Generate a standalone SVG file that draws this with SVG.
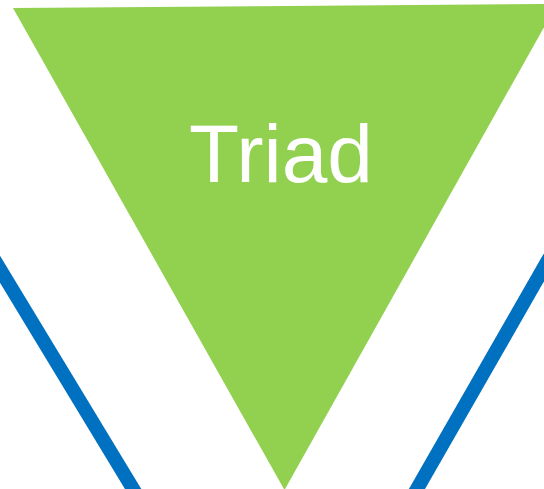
<svg xmlns="http://www.w3.org/2000/svg" width="544" height="489" viewBox="0 0 544 489">
  <style>
    .side { stroke: #0070C0; stroke-width: 14; fill: none; }
    .tri { fill: #92D050; }
    .label { font-family: "Liberation Sans", Arial, sans-serif; font-size: 82px; fill: #FFFFFF; text-anchor: middle; }
  </style>
  <rect width="544" height="489" fill="#FFFFFF"/>
  <g id="connectors">
    <line class="side" x1="-42" y1="200" x2="141" y2="502"/>
    <line class="side" x1="582.5" y1="200" x2="409.5" y2="502"/>
  </g>
  <g id="triad">
    <polygon class="tri" points="13,8 557,4 284.5,490"/>
    <text class="label" x="281" y="182">Triad</text>
  </g>
</svg>
